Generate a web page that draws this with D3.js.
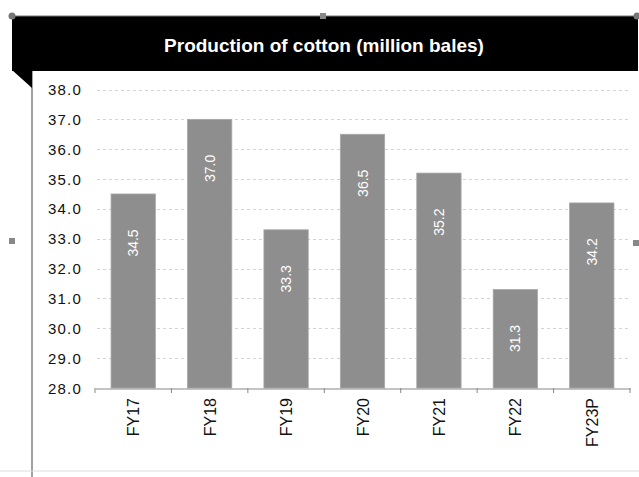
<!DOCTYPE html>
<html>
<head>
<meta charset="utf-8">
<script src="https://cdn.jsdelivr.net/npm/d3@7"></script>
<style>
  body { margin: 0; background: #fff; }
  text { font-family: "Liberation Sans", Arial, sans-serif; }
</style>
</head>
<body>
<svg id="chart" width="639" height="477"></svg>
<script>
var years = ["FY17", "FY18", "FY19", "FY20", "FY21", "FY22", "FY23P"];
var production = [34.5, 37.0, 33.3, 36.5, 35.2, 31.3, 34.2];
var yTicks = [28, 29, 30, 31, 32, 33, 34, 35, 36, 37, 38];

var svg = d3.select("#chart");

// frame bits left over from the slide
svg.append("line").attr("x1", 32).attr("x2", 32).attr("y1", 70).attr("y2", 477)
  .attr("stroke", "#444").attr("stroke-width", 1);
svg.append("line").attr("x1", 0).attr("x2", 639).attr("y1", 471).attr("y2", 471)
  .attr("stroke", "#ddd").attr("stroke-width", 1);

// title band
svg.append("rect").attr("x", 12).attr("y", 16).attr("width", 626).attr("height", 55).attr("fill", "#000");
svg.append("path").attr("d", "M12,70 L32,70 L32,88 Z").attr("fill", "#000");
svg.append("line").attr("x1", 12).attr("x2", 638).attr("y1", 16).attr("y2", 16).attr("stroke", "#777");
svg.append("text").attr("x", 324).attr("y", 52).attr("text-anchor", "middle")
  .attr("fill", "#fff").attr("font-size", 19).attr("font-weight", "bold")
  .text("Production of cotton (million bales)");

// handles
[[12, 16], [637, 16]].forEach(function(p){
  svg.append("circle").attr("cx", p[0]).attr("cy", p[1]).attr("r", 3.5).attr("fill", "#777");
});
[[323, 16], [12, 241], [636, 243]].forEach(function(p){
  svg.append("rect").attr("x", p[0] - 3).attr("y", p[1] - 3).attr("width", 6).attr("height", 6).attr("fill", "#888");
});

var x0 = 95, x1 = 630;
var x = d3.scaleBand().domain(years).range([x0, x1]).paddingInner(0.42).paddingOuter(0.21);
var y = d3.scaleLinear().domain([28, 38]).range([388, 89.5]);

// gridlines
svg.append("g").selectAll("line").data(yTicks.slice(1)).join("line")
  .attr("x1", x0 + 2).attr("x2", x1)
  .attr("y1", function(d){ return Math.round(y(d)) + 0.5; }).attr("y2", function(d){ return Math.round(y(d)) + 0.5; })
  .attr("stroke", "#d4d4d4").attr("stroke-dasharray", "3,3");

// y labels
svg.append("g").selectAll("text").data(yTicks).join("text")
  .attr("x", 82).attr("y", function(d){ return y(d) + 5.5; })
  .attr("text-anchor", "end").attr("font-size", 15).attr("letter-spacing", 1.2).attr("fill", "#111")
  .text(function(d){ return d.toFixed(1); });

// bars
svg.append("g").selectAll("rect").data(production).join("rect")
  .attr("x", function(d, i){ return x(years[i]); })
  .attr("y", function(d){ return y(d); })
  .attr("width", x.bandwidth())
  .attr("height", function(d){ return y(28) - y(d); })
  .attr("fill", "#8e8e8e").attr("stroke", "#a8a8a8").attr("stroke-width", 0.8);

// value labels
svg.append("g").selectAll("text").data(production).join("text")
  .attr("transform", function(d, i){
    return "translate(" + (x(years[i]) + x.bandwidth() / 2 + 5) + "," + (y(d) + 49) + ") rotate(-90)";
  })
  .attr("text-anchor", "middle").attr("font-size", 14).attr("fill", "#fff")
  .text(function(d){ return d.toFixed(1); });

// x axis
var xAxis = d3.axisBottom(x).tickSize(0).tickFormat("");
var gx = svg.append("g").attr("transform", "translate(0,388.5)").call(xAxis);
gx.select(".domain").attr("stroke", "#888");
var step = (x1 - x0) / years.length;
svg.append("g").selectAll("line").data(d3.range(years.length + 1)).join("line")
  .attr("x1", function(i){ return x0 + i * step; })
  .attr("x2", function(i){ return x0 + i * step; })
  .attr("y1", 388).attr("y2", 393).attr("stroke", "#888");

svg.append("g").selectAll("text").data(years).join("text")
  .attr("transform", function(d){
    return "translate(" + (x(d) + x.bandwidth() / 2 + 6) + ",398) rotate(-90)";
  })
  .attr("text-anchor", "end").attr("font-size", 16).attr("fill", "#111")
  .text(function(d){ return d; });
</script>
</body>
</html>
